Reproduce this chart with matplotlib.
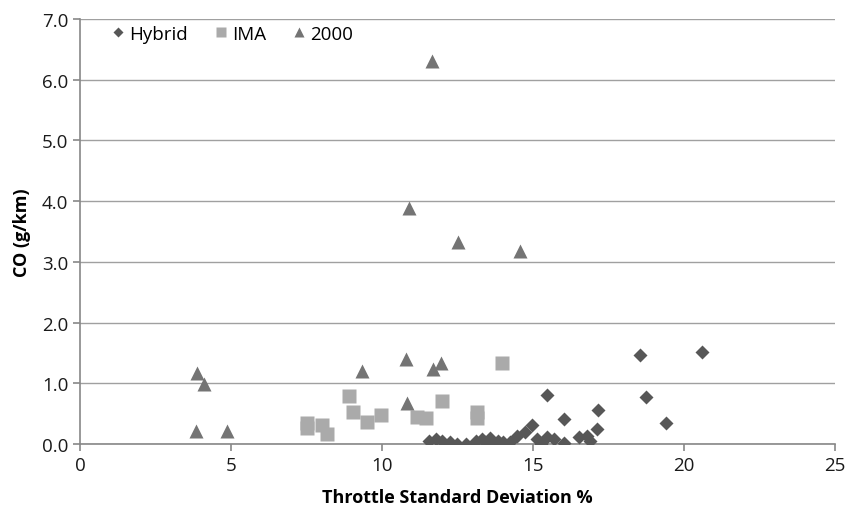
import matplotlib.pyplot as plt

plt.rcParams['font.family'] = ['Open Sans', 'DejaVu Sans']

# Hybrid
hybrid_x = [11.55, 11.8, 12.0, 12.25, 12.48, 12.78, 13.1, 13.3, 13.4, 13.58, 13.68,
            13.85, 14.0, 14.24, 14.47, 14.74, 14.97, 15.13, 15.26, 15.46, 15.46,
            15.7, 16.03, 16.03, 16.52, 16.89, 16.8, 17.12, 17.15, 18.54, 18.74,
            19.4, 20.6]
hybrid_y = [0.05, 0.08, 0.05, 0.03, 0.0, 0.0, 0.05, 0.08, 0.03, 0.1, 0.0,
            0.05, 0.03, 0.03, 0.13, 0.2, 0.31, 0.08, 0.0, 0.11, 0.8,
            0.08, 0.41, 0.02, 0.11, 0.05, 0.13, 0.25, 0.56, 1.46, 0.77,
            0.35, 1.51]

# IMA
ima_x = [7.5, 7.5, 8.0, 8.17, 8.9, 9.03, 9.5, 9.97, 11.15, 11.45, 12.0, 13.15, 13.15, 13.97]
ima_y = [0.35, 0.27, 0.31, 0.17, 0.79, 0.53, 0.37, 0.48, 0.45, 0.42, 0.71, 0.52, 0.42, 1.33]

# 2000
y2000_x = [3.87, 4.1, 3.84, 4.87, 11.65, 10.9, 12.5, 14.57, 9.34, 10.8, 11.7, 11.95, 10.83]
y2000_y = [1.17, 0.99, 0.21, 0.21, 6.3, 3.88, 3.33, 3.17, 1.2, 1.4, 1.24, 1.33, 0.68]

fig = plt.figure(figsize=(8.46, 5.06), dpi=100)
ax = fig.add_axes([0.0946, 0.1206, 0.8924, 0.84])

ax.plot(hybrid_x, hybrid_y, 'D', color='#575757', ms=7.5, mec='none', label='Hybrid', zorder=3)
ax.plot(ima_x, ima_y, 's', color='#aaaaaa', ms=10, mec='none', label='IMA', zorder=3)
ax.plot(y2000_x, y2000_y, '^', color='#747474', ms=10, mec='none', label='2000', zorder=3)

ax.set_xlim(0, 25)
ax.set_ylim(0, 7)
ax.set_xticks([0, 5, 10, 15, 20, 25])
ax.set_yticks([i for i in range(8)])
ax.set_yticklabels([f'{i:.1f}' for i in range(8)])

ax.yaxis.grid(True, color='#a0a0a0', lw=1)
ax.set_axisbelow(True)
for s in ['top', 'right']:
    ax.spines[s].set_visible(False)
for s in ['left', 'bottom']:
    ax.spines[s].set_color('#888888')
    ax.spines[s].set_linewidth(1.2)
ax.tick_params(colors='#888888', labelcolor='#1a1a1a', labelsize=13.5, length=5, width=1.2)

ax.set_xlabel('Throttle Standard Deviation %', fontsize=13, fontweight='bold', labelpad=10)
ax.set_ylabel('CO (g/km)', fontsize=13, fontweight='bold', labelpad=8)

leg = ax.legend(loc='upper left', ncol=3, frameon=False, fontsize=13.5,
                bbox_to_anchor=(0.016, 1.026), handlelength=1.0, handletextpad=0.1,
                columnspacing=1.25, markerscale=0.7)

fig.savefig('out.png', dpi=100)
